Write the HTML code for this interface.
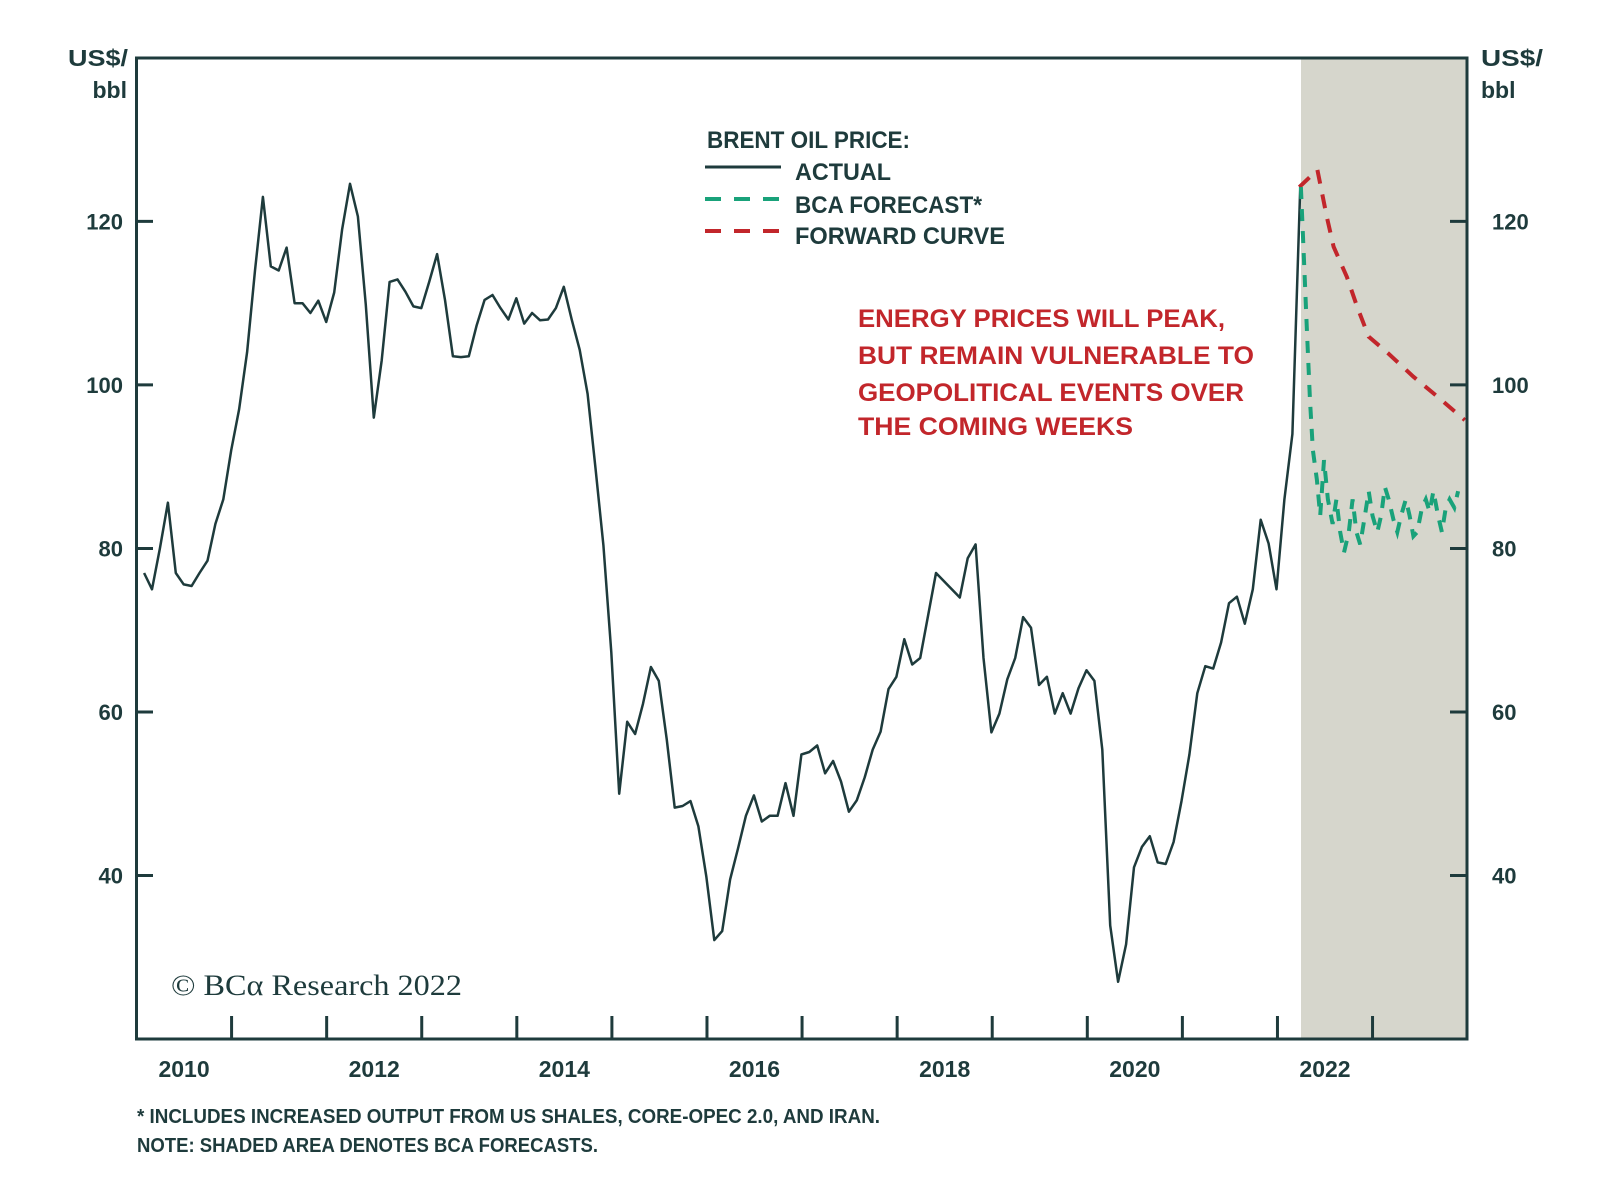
<!DOCTYPE html>
<html><head><meta charset="utf-8"><style>
html,body{margin:0;padding:0;background:#fff;}
svg{display:block;}
text{font-family:"Liberation Sans",sans-serif;}
</style></head><body>
<svg id="chart" width="1600" height="1191" viewBox="0 0 1600 1191">
<rect x="1301" y="58" width="166" height="981" fill="#d6d6cc"/>
<g id="ticks"></g>
<g id="series"></g>
<rect x="136.5" y="58" width="1330.5" height="981" fill="none" stroke="#1e3b3c" stroke-width="3"/>
<g fill="#1e3b3c" font-weight="bold" font-size="23">
<text x="128" y="66" text-anchor="end" textLength="60" lengthAdjust="spacingAndGlyphs">US$/</text>
<text x="127" y="98" text-anchor="end">bbl</text>
<text x="1481" y="66" textLength="62" lengthAdjust="spacingAndGlyphs">US$/</text>
<text x="1481" y="98">bbl</text>
</g>
<g fill="#1e3b3c" font-weight="bold" font-size="24">
<text x="707" y="148" textLength="203" lengthAdjust="spacingAndGlyphs">BRENT OIL PRICE:</text>
<line x1="705" y1="167" x2="781" y2="167" stroke="#1e3b3c" stroke-width="3"/>
<text x="795" y="180" textLength="96" lengthAdjust="spacingAndGlyphs">ACTUAL</text>
<line x1="705" y1="199" x2="781" y2="199" stroke="#19a27a" stroke-width="4" stroke-dasharray="16,13"/>
<text x="795" y="213" textLength="187" lengthAdjust="spacingAndGlyphs">BCA FORECAST*</text>
<line x1="705" y1="231" x2="781" y2="231" stroke="#c2262b" stroke-width="4" stroke-dasharray="16,13"/>
<text x="795" y="244" textLength="210" lengthAdjust="spacingAndGlyphs">FORWARD CURVE</text>
</g>
<g fill="#c2262b" font-weight="bold" font-size="25">
<text x="858" y="327" textLength="367" lengthAdjust="spacingAndGlyphs">ENERGY PRICES WILL PEAK,</text>
<text x="858" y="364" textLength="396" lengthAdjust="spacingAndGlyphs">BUT REMAIN VULNERABLE TO</text>
<text x="858" y="401" textLength="386" lengthAdjust="spacingAndGlyphs">GEOPOLITICAL EVENTS OVER</text>
<text x="858" y="435" textLength="275" lengthAdjust="spacingAndGlyphs">THE COMING WEEKS</text>
</g>
<text x="171" y="995" style="font-family:'Liberation Serif',serif" font-size="30" fill="#1e3b3c" textLength="291" lengthAdjust="spacingAndGlyphs">© BCα Research 2022</text>
<g fill="#1e3b3c" font-weight="bold" font-size="20">
<text x="137" y="1123" textLength="743" lengthAdjust="spacingAndGlyphs">* INCLUDES INCREASED OUTPUT FROM US SHALES, CORE-OPEC 2.0, AND IRAN.</text>
<text x="137" y="1152" textLength="461" lengthAdjust="spacingAndGlyphs">NOTE: SHADED AREA DENOTES BCA FORECASTS.</text>
</g>
</svg>
<script>
const actualValues=[77,75,80,85.6,77,75.6,75.4,77,78.5,83,86,92,97,104,114,123,114.5,114,116.8,110,110,108.8,110.3,107.7,111.3,119,124.6,120.6,109.8,96,103,112.6,112.9,111.4,109.6,109.4,112.6,116,110.4,103.5,103.4,103.5,107.3,110.4,111,109.4,108,110.6,107.5,108.8,107.9,108,109.4,112,108,104.3,98.9,89.8,80.4,67.3,50,58.8,57.3,61,65.5,63.8,56.6,48.3,48.5,49.1,46,39.8,32.1,33.2,39.5,43.3,47.3,49.8,46.6,47.3,47.3,51.3,47.3,54.8,55.1,55.9,52.5,54,51.5,47.8,49.2,52,55.4,57.6,62.8,64.3,68.9,65.8,66.6,71.8,77,76,75,74,78.8,80.5,66.6,57.5,59.8,64,66.6,71.6,70.3,63.3,64.3,59.8,62.3,59.8,62.9,65.1,63.8,55.4,33.9,27,31.6,41,43.5,44.8,41.6,41.4,44.1,49.1,54.8,62.3,65.6,65.3,68.5,73.3,74.1,70.8,75,83.5,80.6,75,86,94,124.4];
const actualStart=2010.08;
const actualEnd=2022.24;
const forecastDates=[2022.247,2022.279,2022.310,2022.342,2022.373,2022.415,2022.45,2022.49,2022.53,2022.58,2022.62,2022.66,2022.70,2022.75,2022.79,2022.83,2022.87,2022.92,2022.96,2023.00,2023.05,2023.09,2023.13,2023.17,2023.22,2023.26,2023.30,2023.35,2023.39,2023.43,2023.47,2023.52,2023.56,2023.60,2023.64,2023.69,2023.73,2023.77,2023.81,2023.86,2023.90];
const forecastValues=[124.2,115.2,106.7,98.1,92,88.4,84,90.8,86,83,86,82,79.5,82,86,82,80.5,84,87,84,82,84,87.5,86,83.5,82,84,86,84,81.5,82,85,86,84.5,87,84,82,85,86,85,87];
const forwardDates=[2022.23,2022.42,2022.52,2022.59,2022.73,2022.84,2022.96,2023.16,2023.43,2023.69,2023.97];
const forwardValues=[124.2,126.3,120.5,116.9,113.2,109.5,105.9,103.9,101,98.5,95.7];
const yTicks=[40,60,80,100,120];
const yearTicks=[2011,2012,2013,2014,2015,2016,2017,2018,2019,2020,2021,2022,2023];
const yearLabels=[2010,2012,2014,2016,2018,2020,2022];
const X=t=>136.5+(t-2010)*95.08;
const Y=v=>221.4+(120-v)*8.176;
const NS='http://www.w3.org/2000/svg';
const tk=document.getElementById('ticks'), sr=document.getElementById('series');
function mk(tag,attrs,parent){const e=document.createElementNS(NS,tag);for(const k in attrs)e.setAttribute(k,attrs[k]);parent.appendChild(e);return e;}
yTicks.forEach(v=>{
  const l=mk('line',{x1:136.5,x2:153,y1:Y(v),y2:Y(v),stroke:'#1e3b3c','stroke-width':3},tk);
  
  
  const r=mk('line',{x1:1450,x2:1467,y1:Y(v),y2:Y(v),stroke:'#1e3b3c','stroke-width':3},tk);
  
  
  const a=mk('text',{x:123,y:Y(v)+8,'text-anchor':'end','font-weight':'bold','font-size':22,fill:'#1e3b3c'},tk);a.textContent=v;
  
  
  const b=mk('text',{x:1492,y:Y(v)+8,'font-weight':'bold','font-size':22,fill:'#1e3b3c'},tk);b.textContent=v;
  
  
});
yearTicks.forEach(t=>{
  const l=mk('line',{x1:X(t),x2:X(t),y1:1016,y2:1039,stroke:'#1e3b3c','stroke-width':3},tk);
  
  
});
yearLabels.forEach(t=>{
  const a=mk('text',{x:X(t+0.5),y:1077,'text-anchor':'middle','font-weight':'bold','font-size':23,fill:'#1e3b3c'},tk);a.textContent=t;
  
  
});
const n=actualValues.length;
const step=(actualEnd-actualStart)/(n-1);
const ap=actualValues.map((v,i)=>X(actualStart+i*step).toFixed(1)+','+Y(v).toFixed(1)).join(' ');
const pa=mk('polyline',{points:ap,fill:'none',stroke:'#1e3b3c','stroke-width':2.5,'stroke-linejoin':'round'},sr);


const fp=forwardDates.map((t,i)=>X(t).toFixed(1)+','+Y(forwardValues[i]).toFixed(1)).join(' ');
const pf=mk('polyline',{points:fp,fill:'none',stroke:'#c2262b','stroke-width':4,'stroke-dasharray':'14,11'},sr);


const gp=forecastDates.map((t,i)=>X(t).toFixed(1)+','+Y(forecastValues[i]).toFixed(1)).join(' ');
const pg=mk('polyline',{points:gp,fill:'none',stroke:'#19a27a','stroke-width':4,'stroke-dasharray':'12,10'},sr);


</script>
</body></html>
